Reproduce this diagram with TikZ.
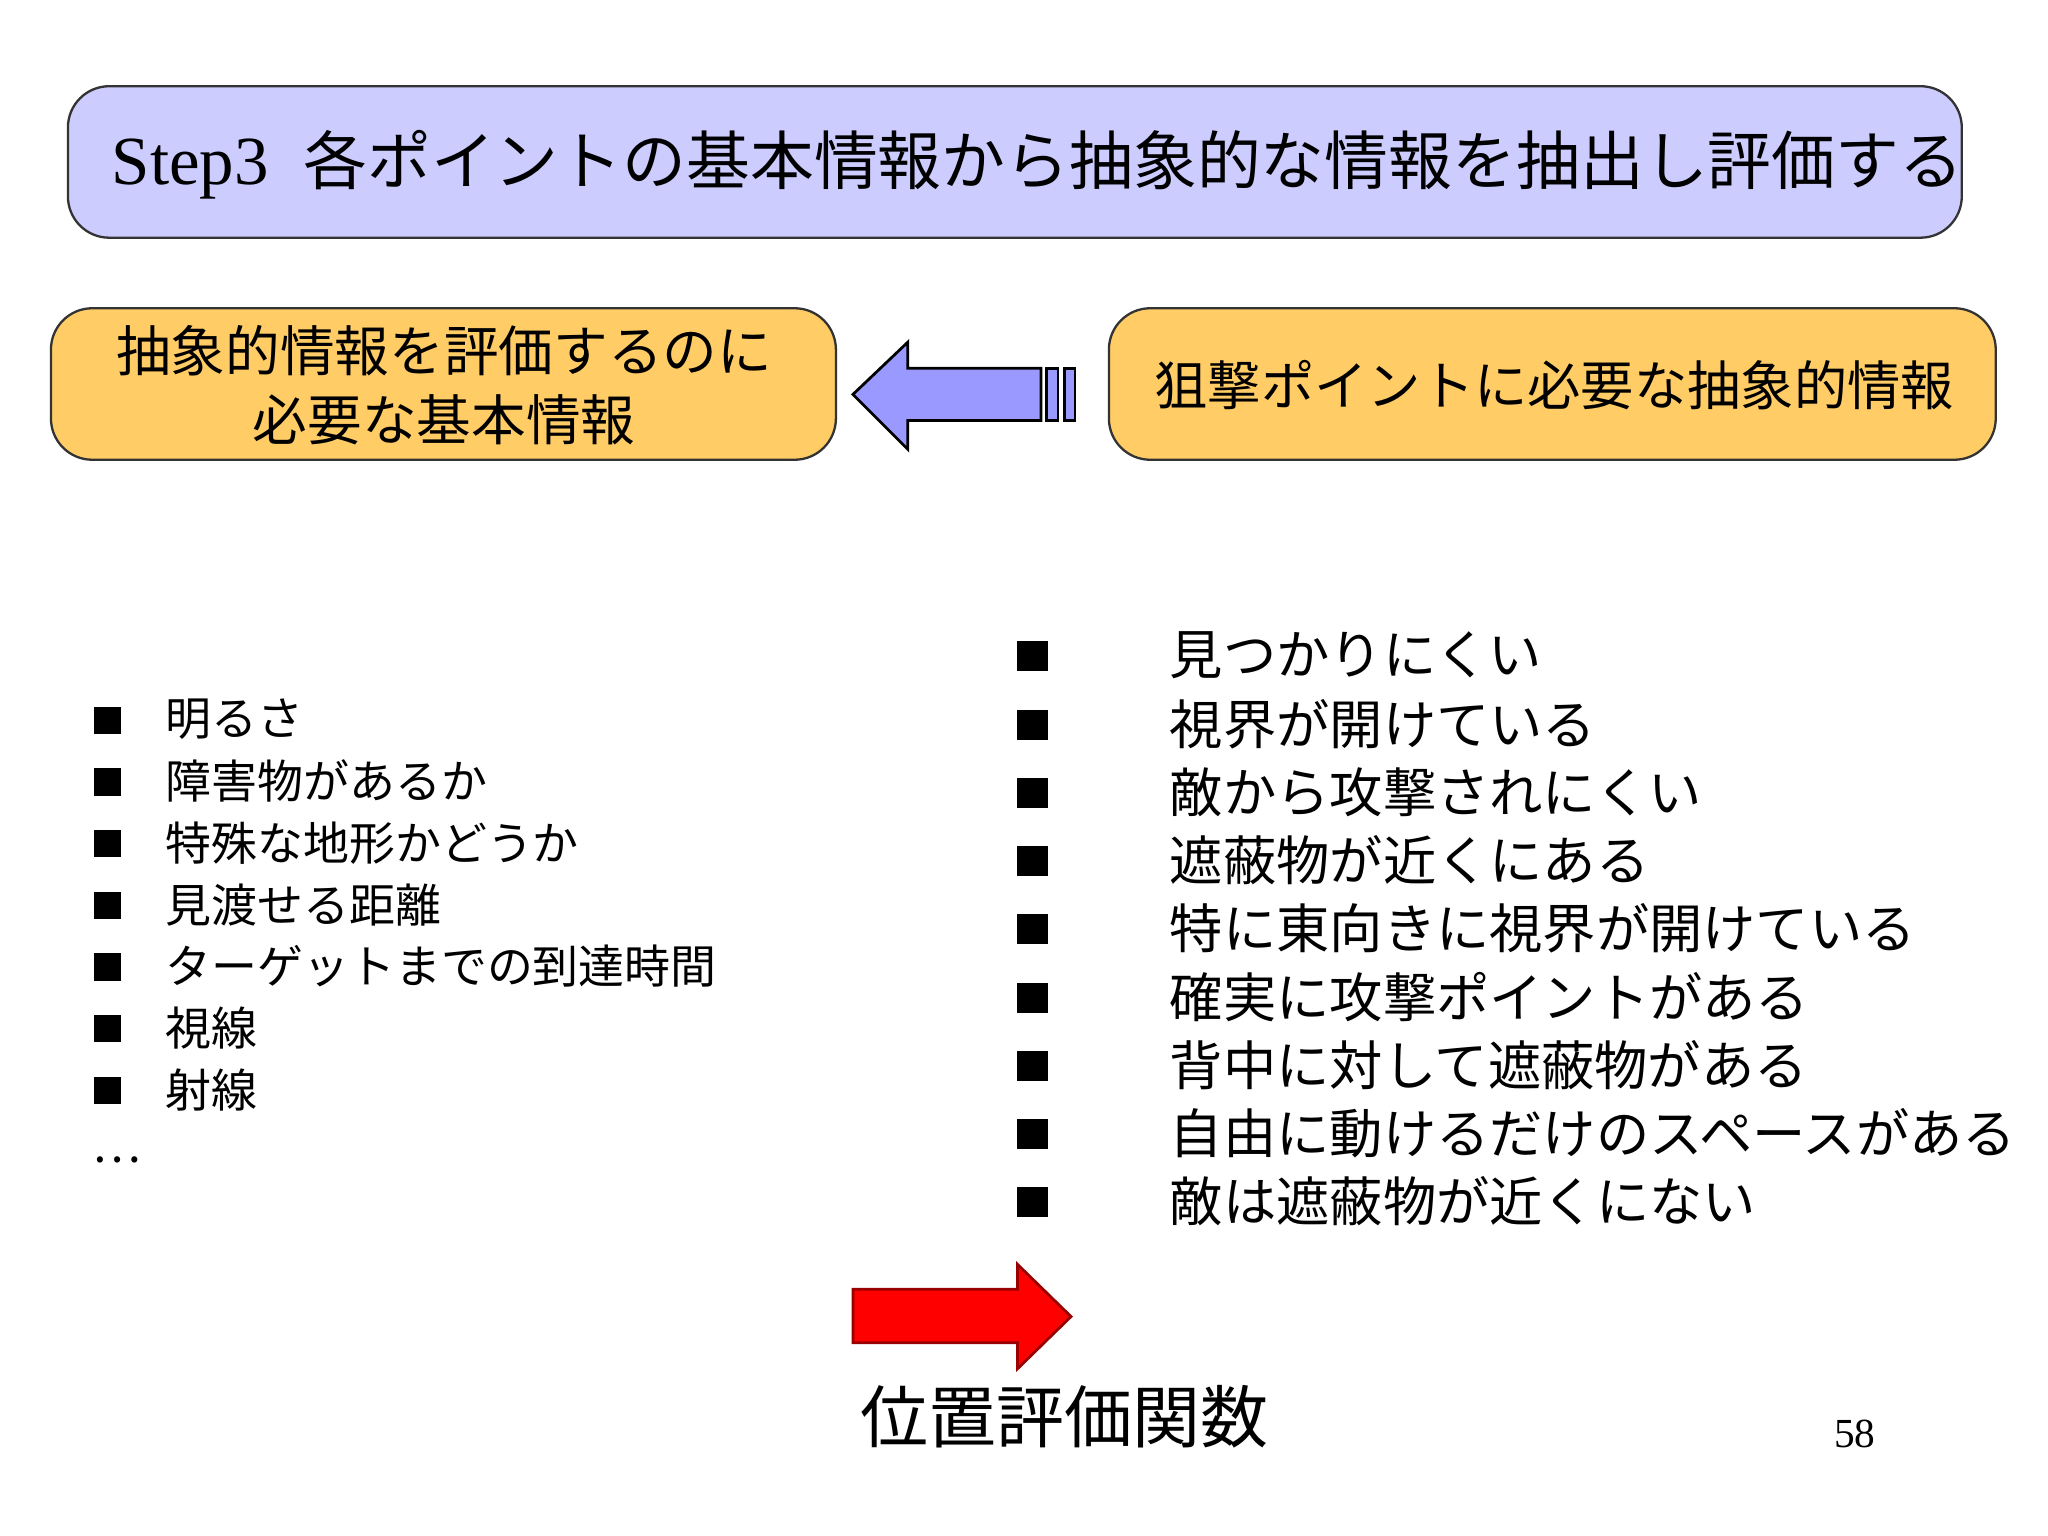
\documentclass[tikz,border=0pt]{standalone}
\usepackage{fontspec}
\newfontfamily\cjk{Noto Sans CJK JP}
\newfontfamily\serif{Liberation Serif}
\begin{document}
\begin{tikzpicture}[x=0.01cm,y=-0.01cm,
  box/.style={draw=black!80,line width=0.5pt,rounded corners=9pt},
  lt/.style={anchor=west,font=\cjk\fontsize{10}{12}\selectfont,inner sep=0},
  rt/.style={anchor=west,font=\cjk\fontsize{11.6}{14}\selectfont,inner sep=0},
  bul/.style={fill=black}]
\useasboundingbox (0,0) rectangle (1568,1176);
\fill[white] (0,0) rectangle (1568,1176);
\draw[box,fill={rgb,255:red,204;green,204;blue,255}] (52,66) rectangle (1502,182);
\node[anchor=west,inner sep=0] (title) at (85,126) {\serif\fontsize{15}{18}\selectfont Step3\hspace{0.5em}\cjk\fontsize{13.9}{18}\selectfont 各ポイントの基本情報から抽象的な情報を抽出し評価する};
\draw[box,fill={rgb,255:red,255;green,204;blue,102}] (39,236) rectangle (640,352);
\node[align=center,font=\cjk\fontsize{11.9}{15}\selectfont] (lb) at (340,295) {抽象的情報を評価するのに\\必要な基本情報};
\draw[box,fill={rgb,255:red,255;green,204;blue,102}] (849,236) rectangle (1528,352);
\node[font=\cjk\fontsize{11.6}{14}\selectfont] (rb) at (1190,295) {狙撃ポイントに必要な抽象的情報};
% blue arrow
\draw[fill={rgb,255:red,153;green,153;blue,255},line width=0.6pt] (653,302) -- (695,262) -- (695,282) -- (797,282) -- (797,322) -- (695,322) -- (695,344) -- cycle;
\draw[fill={rgb,255:red,153;green,153;blue,255},line width=0.6pt] (801,282) rectangle (810,322);
\draw[fill={rgb,255:red,153;green,153;blue,255},line width=0.6pt] (815,282) rectangle (823,322);
% left list
\foreach \t [count=\i] in {明るさ,障害物があるか,特殊な地形かどうか,見渡せる距離,ターゲットまでの到達時間,視線,射線}{
  \pgfmathsetmacro\yy{551+(\i-1)*47.2}
  \fill[bul] (72,\yy-10) rectangle (93,\yy+11);
  \node[lt] (l\i) at (126,\yy) {\t};
}
\node[lt] (ldots) at (70,888) {…};
% right list
\foreach \t [count=\i] in {見つかりにくい,視界が開けている,敵から攻撃されにくい,遮蔽物が近くにある,特に東向きに視界が開けている,確実に攻撃ポイントがある,背中に対して遮蔽物がある,自由に動けるだけのスペースがある,敵は遮蔽物が近くにない}{
  \pgfmathsetmacro\yy{502+(\i-1)*52.25}
  \fill[bul] (779,\yy-11) rectangle (802,\yy+12);
  \node[rt] (r\i) at (895,\yy) {\t};
}
% red arrow
\draw[fill=red,line width=0.6pt,draw=red!60!black] (653,987) -- (779,987) -- (779,968) -- (820,1008) -- (779,1048) -- (779,1028) -- (653,1028) -- cycle;
\node[anchor=west,inner sep=0,font=\cjk\fontsize{14.8}{18}\selectfont] (func) at (658,1085) {位置評価関数};
\node[font=\serif\fontsize{9}{10}\selectfont] (pg) at (1420,1098) {58};
\end{tikzpicture}
\end{document}
